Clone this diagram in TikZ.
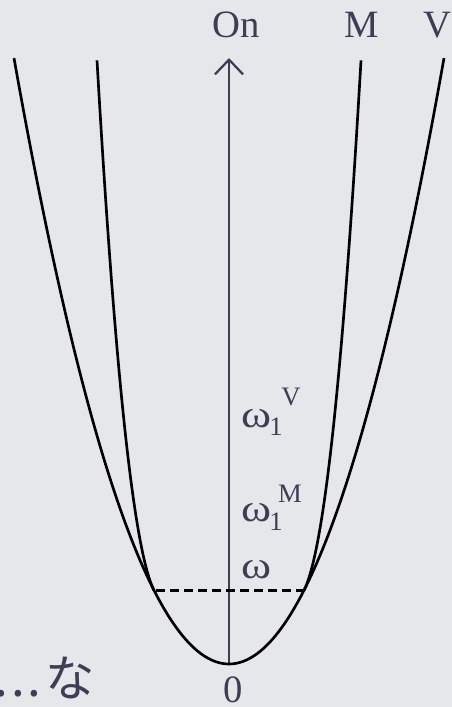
\documentclass[tikz,border=0pt]{standalone}
\usepackage{graphicx}
\usepackage[no-math]{fontspec}
\setmainfont{Liberation Serif}
\newfontfamily\cjk{Noto Sans CJK JP}
\usetikzlibrary{arrows.meta}
\definecolor{bg}{HTML}{E6E7EB}
\definecolor{ink}{HTML}{3A3F56}
\newcommand{\wom}{\scalebox{1.18}[1]{ω}}
\begin{document}
\begin{tikzpicture}[x=0.75pt,y=-0.75pt,
  lbl/.style={text=ink, font=\fontsize{29}{33}\selectfont, inner sep=0pt},
  scr/.style={text=ink, font=\fontsize{20}{22}\selectfont, inner sep=0pt, anchor=base},
  curve/.style={black, line width=2pt},
  axisline/.style={ink, line width=1.7pt, -{Straight Barb[length=11pt,width=21pt,line width=1.7pt]}},
  dashline/.style={black, line width=1.8pt, dash pattern=on 6.5pt off 4pt}]
\fill[bg] (0,0) rectangle (452,707);
\useasboundingbox (0,0) rectangle (452,707);
% axis
\coordinate (vtx) at (229,664);
\coordinate (top) at (229,58);
\draw[axisline] (vtx) -- (top);
% V parabola
\draw[curve] plot[domain=-215:215, samples=121, smooth] ({229+(\x)}, {664-0.0131*(\x)*(\x)});
% M branches
\draw[curve] plot[domain=0:57, samples=40, smooth] ({229+75+\x}, {664-(73.69+1.965*\x+0.1156*\x*\x+0.000231*\x*\x*\x)});
\draw[curve] plot[domain=0:57, samples=40, smooth] ({229-75-\x}, {664-(73.69+1.965*\x+0.1156*\x*\x+0.000231*\x*\x*\x)});
% dashed level
\coordinate (dl) at (156,590.3);
\coordinate (dr) at (304,590.3);
\draw[dashline] (dl) -- (dr);
% labels
\node[lbl, anchor=base] (on) at (236.5,37) {On};
\node[lbl, anchor=base] (m) at (362,37) {M};
\node[lbl, anchor=base west] (v) at (423,37) {V};
\node[lbl, anchor=base west] (w1v) at (241,427) {\wom};
\node[scr] (w1vs) at (276,435) {1};
\node[scr] (w1vp) at (291,405) {V};
\node[lbl, anchor=base west] (w1m) at (241,521) {\wom};
\node[scr] (w1ms) at (276,530) {1};
\node[scr] (w1mp) at (290,502) {M};
\node[lbl, anchor=base west] (w) at (241,578) {\wom};
\node[lbl, anchor=base] (zero) at (233,702) {0};
\node[text=ink, inner sep=0pt, anchor=base east, font=\cjk\fontsize{37}{40}\selectfont] (jp) at (95,696) {.\kern2.2pt.\kern2.2pt.\kern3ptな};
\end{tikzpicture}
\end{document}
